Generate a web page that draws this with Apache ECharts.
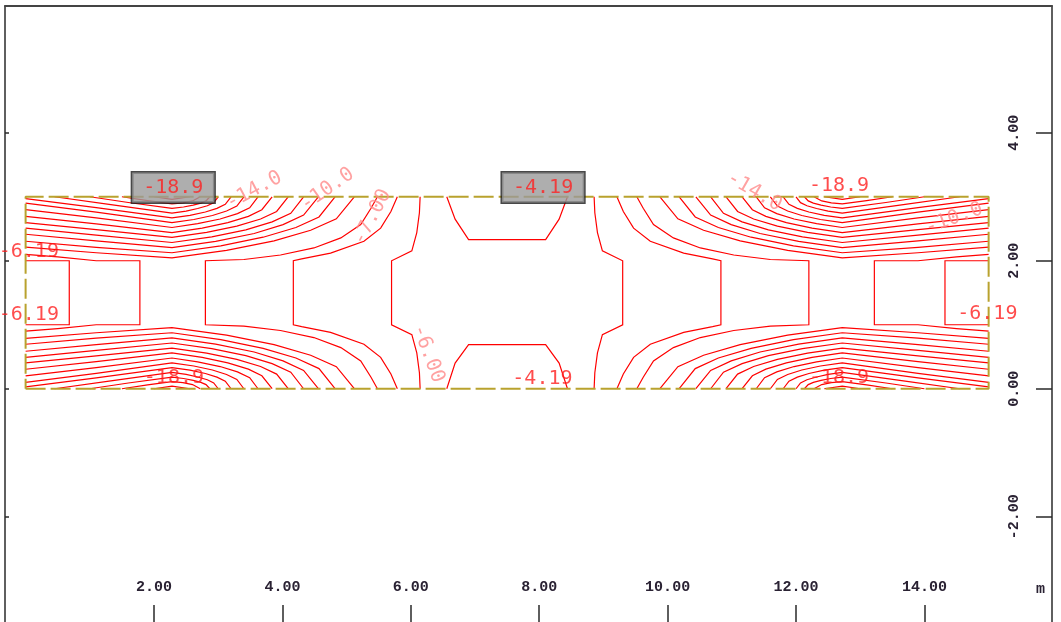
<!DOCTYPE html>
<html>
<head>
<meta charset="utf-8">
<script src="https://cdn.jsdelivr.net/npm/echarts@6/dist/echarts.min.js"></script>
<style>
html,body{margin:0;padding:0;background:#fff;}
#chart{width:1061px;height:622px;}
</style>
</head>
<body>
<div id="chart"></div>
<script>
// Plate edge, metres
const plateOutline = [[0,0],[15,0],[15,3],[0,3],[0,0]];

// Axis tick values
const xTickValues = [2,4,6,8,10,12,14];
const yTickValues = [-2,0,2,4];

// Isolines near the top edge, left span (x, y in m)
const upperLeftLines = [
  [[2.0,3.0],[2.28,2.96],[2.56,3.0]],
  [[1.5,3.0],[1.9,2.94],[2.28,2.89],[2.45,2.905],[2.6,2.935],[2.72,3.0]],
  [[1.0,3.0],[1.6,2.91],[2.28,2.82],[2.46,2.84],[2.61,2.87],[2.73,2.90],[2.81,2.935],[2.87,3.0]],
  [[0.45,3.0],[1.3,2.88],[2.28,2.745],[2.50,2.776],[2.68,2.816],[2.83,2.86],[2.93,2.908],[3.0,3.0]],
  [[0,2.97],[1.1,2.83],[2.28,2.67],[2.56,2.71],[2.80,2.762],[2.98,2.819],[3.11,2.881],[3.2,3.0]],
  [[0,2.90],[1.1,2.76],[2.28,2.595],[2.62,2.645],[2.91,2.707],[3.13,2.778],[3.29,2.854],[3.4,3.0]],
  [[0,2.80],[1.1,2.67],[2.28,2.52],[2.68,2.579],[3.03,2.653],[3.30,2.737],[3.49,2.827],[3.62,3.0]],
  [[0,2.695],[1.1,2.575],[2.28,2.44],[2.75,2.509],[3.15,2.595],[3.47,2.693],[3.68,2.798],[3.84,3.0]],
  [[0,2.596],[1.1,2.485],[2.28,2.365],[2.82,2.443],[3.29,2.541],[3.66,2.652],[3.91,2.771],[4.09,3.0]],
  [[0,2.511],[1.1,2.40],[2.28,2.285],[2.90,2.373],[3.43,2.483],[3.84,2.608],[4.13,2.742],[4.33,3.0]],
  [[0,2.414],[1.1,2.31],[2.28,2.205],[2.96,2.302],[3.56,2.426],[4.01,2.564],[4.33,2.714],[4.56,3.0]],
  [[0,2.305],[1.1,2.21],[2.28,2.125],[3.04,2.232],[3.70,2.368],[4.21,2.52],[4.57,2.685],[4.82,3.0]],
  [[0,2.212],[1.1,2.125],[2.28,2.045],[3.13,2.162],[3.87,2.31],[4.44,2.476],[4.84,2.656],[5.12,3.0]]
];

// Isolines near the bottom edge, left span
const lowerLeftLines = [
  [[2.0,0],[2.28,0.04],[2.56,0]],
  [[1.5,0],[1.9,0.06],[2.28,0.11],[2.45,0.095],[2.6,0.065],[2.72,0]],
  [[1.0,0],[1.6,0.09],[2.28,0.18],[2.46,0.16],[2.61,0.13],[2.73,0.10],[2.81,0.065],[2.87,0]],
  [[0.45,0],[1.3,0.12],[2.28,0.255],[2.50,0.224],[2.68,0.184],[2.83,0.14],[2.93,0.092],[3.0,0]],
  [[0,0.03],[1.1,0.17],[2.28,0.33],[2.56,0.29],[2.80,0.238],[2.98,0.181],[3.11,0.119],[3.2,0]],
  [[0,0.10],[1.1,0.24],[2.28,0.405],[2.62,0.355],[2.91,0.293],[3.13,0.222],[3.29,0.146],[3.4,0]],
  [[0,0.20],[1.1,0.33],[2.28,0.48],[2.68,0.421],[3.03,0.347],[3.30,0.263],[3.49,0.173],[3.62,0]],
  [[0,0.305],[1.1,0.425],[2.28,0.56],[2.75,0.491],[3.15,0.405],[3.47,0.307],[3.68,0.202],[3.84,0]],
  [[0,0.404],[1.1,0.515],[2.28,0.635],[2.82,0.557],[3.29,0.459],[3.66,0.348],[3.91,0.229],[4.09,0]],
  [[0,0.489],[1.1,0.60],[2.28,0.715],[2.90,0.627],[3.43,0.517],[3.84,0.392],[4.13,0.258],[4.33,0]],
  [[0,0.586],[1.1,0.69],[2.28,0.795],[2.96,0.698],[3.56,0.574],[4.01,0.436],[4.33,0.286],[4.56,0]],
  [[0,0.695],[1.1,0.79],[2.28,0.875],[3.04,0.768],[3.70,0.632],[4.21,0.48],[4.57,0.315],[4.82,0]],
  [[0,0.788],[1.1,0.875],[2.28,0.955],[3.13,0.838],[3.87,0.69],[4.44,0.524],[4.84,0.344],[5.12,0]]
];

// Isolines near the top edge, right span
const upperRightLines = [
  [[13.0,3.0],[12.72,2.96],[12.44,3.0]],
  [[13.5,3.0],[13.1,2.94],[12.72,2.89],[12.55,2.905],[12.4,2.935],[12.28,3.0]],
  [[14.0,3.0],[13.4,2.91],[12.72,2.82],[12.54,2.84],[12.39,2.87],[12.27,2.90],[12.19,2.935],[12.13,3.0]],
  [[14.55,3.0],[13.7,2.88],[12.72,2.745],[12.5,2.776],[12.32,2.816],[12.17,2.86],[12.07,2.908],[12.0,3.0]],
  [[15,2.97],[13.9,2.83],[12.72,2.67],[12.44,2.71],[12.2,2.762],[12.02,2.819],[11.89,2.881],[11.8,3.0]],
  [[15,2.90],[13.9,2.76],[12.72,2.595],[12.38,2.645],[12.09,2.707],[11.87,2.778],[11.71,2.854],[11.6,3.0]],
  [[15,2.80],[13.9,2.67],[12.72,2.52],[12.32,2.579],[11.97,2.653],[11.7,2.737],[11.51,2.827],[11.38,3.0]],
  [[15,2.695],[13.9,2.575],[12.72,2.44],[12.25,2.509],[11.85,2.595],[11.53,2.693],[11.32,2.798],[11.16,3.0]],
  [[15,2.596],[13.9,2.485],[12.72,2.365],[12.18,2.443],[11.71,2.541],[11.34,2.652],[11.09,2.771],[10.91,3.0]],
  [[15,2.511],[13.9,2.40],[12.72,2.285],[12.1,2.373],[11.57,2.483],[11.16,2.608],[10.87,2.742],[10.67,3.0]],
  [[15,2.414],[13.9,2.31],[12.72,2.205],[12.04,2.302],[11.44,2.426],[10.99,2.564],[10.67,2.714],[10.44,3.0]],
  [[15,2.305],[13.9,2.21],[12.72,2.125],[11.96,2.232],[11.3,2.368],[10.79,2.52],[10.43,2.685],[10.18,3.0]],
  [[15,2.212],[13.9,2.125],[12.72,2.045],[11.87,2.162],[11.13,2.31],[10.56,2.476],[10.16,2.656],[9.88,3.0]]
];

// Isolines near the bottom edge, right span
const lowerRightLines = [
  [[13.0,0],[12.72,0.04],[12.44,0]],
  [[13.5,0],[13.1,0.06],[12.72,0.11],[12.55,0.095],[12.4,0.065],[12.28,0]],
  [[14.0,0],[13.4,0.09],[12.72,0.18],[12.54,0.16],[12.39,0.13],[12.27,0.10],[12.19,0.065],[12.13,0]],
  [[14.55,0],[13.7,0.12],[12.72,0.255],[12.5,0.224],[12.32,0.184],[12.17,0.14],[12.07,0.092],[12.0,0]],
  [[15,0.03],[13.9,0.17],[12.72,0.33],[12.44,0.29],[12.2,0.238],[12.02,0.181],[11.89,0.119],[11.8,0]],
  [[15,0.10],[13.9,0.24],[12.72,0.405],[12.38,0.355],[12.09,0.293],[11.87,0.222],[11.71,0.146],[11.6,0]],
  [[15,0.20],[13.9,0.33],[12.72,0.48],[12.32,0.421],[11.97,0.347],[11.7,0.263],[11.51,0.173],[11.38,0]],
  [[15,0.305],[13.9,0.425],[12.72,0.56],[12.25,0.491],[11.85,0.405],[11.53,0.307],[11.32,0.202],[11.16,0]],
  [[15,0.404],[13.9,0.515],[12.72,0.635],[12.18,0.557],[11.71,0.459],[11.34,0.348],[11.09,0.229],[10.91,0]],
  [[15,0.489],[13.9,0.60],[12.72,0.715],[12.1,0.627],[11.57,0.517],[11.16,0.392],[10.87,0.258],[10.67,0]],
  [[15,0.586],[13.9,0.69],[12.72,0.795],[12.04,0.698],[11.44,0.574],[10.99,0.436],[10.67,0.286],[10.44,0]],
  [[15,0.695],[13.9,0.79],[12.72,0.875],[11.96,0.768],[11.3,0.632],[10.79,0.48],[10.43,0.315],[10.18,0]],
  [[15,0.788],[13.9,0.875],[12.72,0.955],[11.87,0.838],[11.13,0.69],[10.56,0.524],[10.16,0.344],[9.88,0]]
];

// Isolines crossing the middle band, left span
const leftBandLines = [
  [[0,2.0],[0.68,2.0],[0.68,1.0],[0,1.0]],
  [[0,2.10],[0.5,2.06],[1.1,2.0],[1.78,2.0],[1.78,1.0],[1.1,1.0],[0.5,0.94],[0,0.90]],
  [[5.48,3.0],[5.38,2.82],[5.22,2.565],[4.91,2.357],[4.49,2.2],[3.97,2.09],[3.4,2.02],[2.8,2.0],
   [2.8,1.0],[3.4,0.98],[3.97,0.91],[4.49,0.8],[4.91,0.643],[5.22,0.435],[5.38,0.18],[5.48,0]],
  [[5.79,3.0],[5.69,2.77],[5.53,2.51],[5.27,2.305],[4.75,2.12],[4.3,2.03],[4.17,2.0],
   [4.17,1.0],[4.3,0.97],[4.75,0.88],[5.27,0.695],[5.53,0.49],[5.69,0.23],[5.79,0]],
  [[6.145,3.0],[6.134,2.75],[6.093,2.44],[6.016,2.154],[5.70,2.0],
   [5.70,1.0],[6.016,0.846],[6.093,0.56],[6.134,0.25],[6.145,0]]
];

// Isolines crossing the middle band, right span
const rightBandLines = [
  [[15,2.0],[14.32,2.0],[14.32,1.0],[15,1.0]],
  [[15,2.10],[14.5,2.06],[13.9,2.0],[13.22,2.0],[13.22,1.0],[13.9,1.0],[14.5,0.94],[15,0.90]],
  [[9.52,3.0],[9.62,2.82],[9.78,2.565],[10.09,2.357],[10.51,2.2],[11.03,2.09],[11.6,2.02],[12.2,2.0],
   [12.2,1.0],[11.6,0.98],[11.03,0.91],[10.51,0.8],[10.09,0.643],[9.78,0.435],[9.62,0.18],[9.52,0]],
  [[9.21,3.0],[9.31,2.77],[9.47,2.51],[9.73,2.305],[10.25,2.12],[10.7,2.03],[10.83,2.0],
   [10.83,1.0],[10.7,0.97],[10.25,0.88],[9.73,0.695],[9.47,0.49],[9.31,0.23],[9.21,0]],
  [[8.855,3.0],[8.866,2.75],[8.907,2.44],[8.984,2.154],[9.30,2.0],
   [9.30,1.0],[8.984,0.846],[8.907,0.56],[8.866,0.25],[8.855,0]]
];

// Isolines around the mid-span edge maxima
const centreLines = [
  [[6.56,3.0],[6.69,2.65],[6.90,2.33],[8.10,2.33],[8.31,2.65],[8.44,3.0]],
  [[6.56,0],[6.69,0.40],[6.90,0.69],[8.10,0.69],[8.31,0.40],[8.44,0]]
];

// Extreme values in boxes: text, x, y
const boxedLabels = [['-18.9',2.30,3.146],['-4.19',8.06,3.146]];
// Extreme values without box
const plainLabels = [
  ['-18.9',12.67,3.17],['-18.9',2.31,0.17],['-18.9',12.67,0.17],['-4.19',8.05,0.16],
  ['-6.19',0.05,2.14],['-6.19',0.05,1.15],['-6.19',14.98,1.17]
];
// Isoline level labels: text, x, y
const levelLabels = [
  ['-14.0',3.56,3.10],['-10.0',4.70,3.115],['-7.00',5.40,2.68],['-6.00',6.27,0.545],
  ['-14.0',11.35,3.08],['-10.0',14.46,2.66]
];
const levelLabelAngles = [28,35,62,-70,-30,20];

const allLines = [].concat(upperLeftLines, lowerLeftLines, upperRightLines, lowerRightLines,
                           leftBandLines, rightBandLines, centreLines);

const labelFont = 'DejaVu Sans Mono';
const tickFont = 'Liberation Mono';
const xMin = -0.321, xMax = 15.987, yMin = -3.645, yMax = 5.981;

const chart = echarts.init(document.getElementById('chart'), null, {renderer: 'canvas'});

const baseAxis = {
  type: 'value',
  splitLine: {show: false},
  axisLine: {show: true, onZero: false, lineStyle: {color: '#2a2a2a', width: 1.5}}
};

chart.setOption({
  animation: false,
  backgroundColor: '#ffffff',
  grid: {left: 5, right: 9, top: 6, bottom: -2, containLabel: false},
  xAxis: [
    Object.assign({}, baseAxis, {
      position: 'bottom', min: xMin, max: xMax,
      axisLine: {show: false, onZero: false},
      axisTick: {show: true, inside: true, length: 17, customValues: xTickValues,
                 lineStyle: {color: '#2a2a2a', width: 1.5}},
      axisLabel: {show: true, inside: true, margin: 27, customValues: xTickValues,
                  formatter: v => v.toFixed(2), fontFamily: tickFont, fontWeight: 'bold',
                  fontSize: 15, color: '#2a2233'}
    }),
    Object.assign({}, baseAxis, {
      position: 'top', min: xMin, max: xMax,
      axisLine: {show: true, onZero: false, lineStyle: {color: '#444', width: 2}},
      axisTick: {show: false}, axisLabel: {show: false}
    })
  ],
  yAxis: [
    Object.assign({}, baseAxis, {
      position: 'right', min: yMin, max: yMax,
      axisTick: {show: true, inside: true, length: 16, customValues: yTickValues,
                 lineStyle: {color: '#2a2a2a', width: 1.5}},
      axisLabel: {show: true, inside: true, rotate: 90, margin: 30, customValues: yTickValues,
                  formatter: v => v.toFixed(2), fontFamily: tickFont, fontWeight: 'bold',
                  fontSize: 15, color: '#2a2233'}
    }),
    Object.assign({}, baseAxis, {
      position: 'left', min: yMin, max: yMax,
      axisTick: {show: true, inside: true, length: 4, customValues: yTickValues,
                 lineStyle: {color: '#2a2a2a', width: 1.5}},
      axisLabel: {show: false}
    })
  ],
  graphic: [{
    type: 'text', left: 1036, top: 582, silent: true,
    style: {text: 'm', font: 'bold 15px "Liberation Mono"', fill: '#2a2233'}
  }],
  series: [
    {
      type: 'lines', coordinateSystem: 'cartesian2d', polyline: true, silent: true, z: 2,
      lineStyle: {color: '#ff0000', width: 1.2, opacity: 1},
      data: allLines.map(c => ({coords: c}))
    },
    {
      type: 'line', data: plateOutline, symbol: 'none', silent: true, z: 3,
      lineStyle: {color: '#b9a22e', width: 2, type: [20, 5]}
    },
    {
      type: 'scatter', symbolSize: 0, silent: true, z: 5,
      data: levelLabels.map((l, i) => ({
        value: [l[1], l[2]],
        label: {show: true, position: 'inside', formatter: l[0], rotate: levelLabelAngles[i],
                fontFamily: labelFont, fontSize: 20, color: '#ff8a8a'}
      }))
    },
    {
      type: 'scatter', symbolSize: 0, silent: true, z: 6,
      data: plainLabels.map(l => ({
        value: [l[1], l[2]],
        label: {show: true, position: 'inside', formatter: l[0],
                fontFamily: labelFont, fontSize: 20, color: '#ff1f1f'}
      }))
    },
    {
      type: 'scatter', symbolSize: 0, silent: true, z: 7,
      data: boxedLabels.map(l => ({
        value: [l[1], l[2]],
        label: {show: true, position: 'inside', formatter: l[0],
                fontFamily: labelFont, fontSize: 20, color: '#ff1f1f',
                backgroundColor: '#9a9a9a', borderColor: '#1a1a1a', borderWidth: 1.5,
                padding: [6, 11, 4, 11]}
      }))
    }
  ]
});
</script>
</body>
</html>
